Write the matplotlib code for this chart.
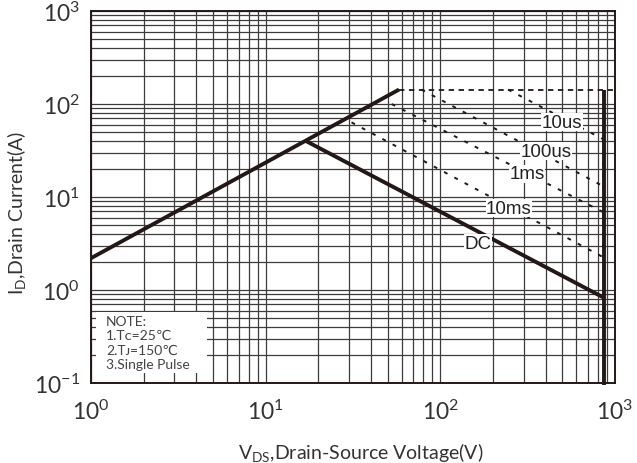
# Safe operating area chart (log-log)

import numpy as np
import matplotlib.pyplot as plt
from matplotlib.ticker import LogLocator, FuncFormatter, NullFormatter
from matplotlib.patches import Rectangle

plt.rcParams['font.family'] = ['Lato', 'DejaVu Sans']

# limits
soa_v = [1, 58]
soa_i = [2.2, 143]
dc_v = [17, 870]
dc_i = [40, 0.82]
bv_v = [870, 870]
bv_i = [0.095, 143]
cap_v = [58, 1000]
cap_i = [143, 143]

pulse_labels = ['10us', '100us', '1ms', '10ms']
pulse_v = [[244, 853], [78, 853], [52.6, 853], [31, 853]]
pulse_i = [[143, 42], [143, 13.1], [100, 6.9], [63.5, 2.26]]
pulse_text_v = [497, 402, 313, 247]
pulse_text_i = [64, 31, 17.7, 7.6]
edge_v = [853, 853]
edge_i = [42, 2.26]

dc_text_v = 164
dc_text_i = 3.2

note_lines = ['NOTE:', '1.Tᴄ=25℃', '2.Tᴊ=150℃', '3.Single Pulse']

dark = '#231815'
narrow = ['Liberation Sans Narrow', 'Liberation Sans', 'DejaVu Sans']

fig = plt.figure(figsize=(6.37, 4.64), dpi=100)
ax = fig.add_axes([0.1429, 0.1724, 0.8226, 0.8017])
ax.set_xscale('log')
ax.set_yscale('log')
ax.set_xlim(1, 1000)
ax.set_ylim(0.1, 1000)

ax.xaxis.set_minor_locator(LogLocator(base=10, subs=np.arange(2, 10)))
ax.yaxis.set_minor_locator(LogLocator(base=10, subs=np.arange(2, 10)))
ax.xaxis.set_minor_formatter(NullFormatter())
ax.yaxis.set_minor_formatter(NullFormatter())
fmt = FuncFormatter(lambda v, p: r'$\mathregular{10^{%d}}$' % round(np.log10(v)))
ax.xaxis.set_major_formatter(fmt)
ax.yaxis.set_major_formatter(fmt)
ax.set_axisbelow(True)
ax.grid(which='both', color='#3c3c3c', lw=0.9)
ax.tick_params(which='both', length=0, labelsize=16.5, labelcolor='#333333')
ax.tick_params(axis='x', pad=11)
ax.tick_params(axis='y', pad=8)
for s in ax.spines.values():
    s.set_linewidth(1.4)
    s.set_color(dark)

# thick limit lines
ax.plot(soa_v, soa_i, color=dark, lw=2.8, solid_capstyle='butt', zorder=3)
ax.plot(dc_v, dc_i, color=dark, lw=2.8, solid_capstyle='butt', zorder=3)
ax.plot(bv_v, bv_i, color=dark, lw=2.8, solid_capstyle='butt', zorder=3, clip_on=False)
ax.plot(cap_v, cap_i, color=dark, lw=1.3, ls=(0, (3, 2.5)), zorder=3)

# pulse lines
for v, i in zip(pulse_v, pulse_i):
    ax.plot(v, i, color=dark, lw=1.4, ls=(0, (2, 4)), zorder=3)
ax.plot(edge_v, edge_i, color=dark, lw=1.4, ls=(0, (2, 4)), zorder=3)

for lab, x, y in zip(pulse_labels, pulse_text_v, pulse_text_i):
    ax.text(x, y, lab, fontsize=13.5, family=narrow, color='#222222', ha='center', va='center',
            bbox=dict(fc='white', ec='none', pad=0.4), zorder=4)
ax.text(dc_text_v, dc_text_i, 'DC', fontsize=13.5, family=narrow, color='#222222', ha='center', va='center',
        bbox=dict(fc='white', ec='none', pad=0.4), zorder=4)

# note box
ax.add_patch(Rectangle((0.0095, 0.027), 0.212, 0.164, transform=ax.transAxes,
                       fc='white', ec='none', zorder=2))
for k, line in enumerate(note_lines):
    ax.text(0.0286, 0.1667 - k * 0.0386, line, transform=ax.transAxes, fontsize=10,
            color='#444444', ha='left', va='center', zorder=4)

ax.set_xlabel(r'$\mathregular{V_{DS}}$,Drain-Source Voltage(V)', fontsize=14, color='#333333')
ax.set_ylabel(r'$\mathregular{I_D}$,Drain Current(A)', fontsize=14, color='#333333')
ax.xaxis.set_label_coords(0.515, -0.152)
ax.yaxis.set_label_coords(-0.12, 0.46)

fig.savefig('out.png', dpi=100)
